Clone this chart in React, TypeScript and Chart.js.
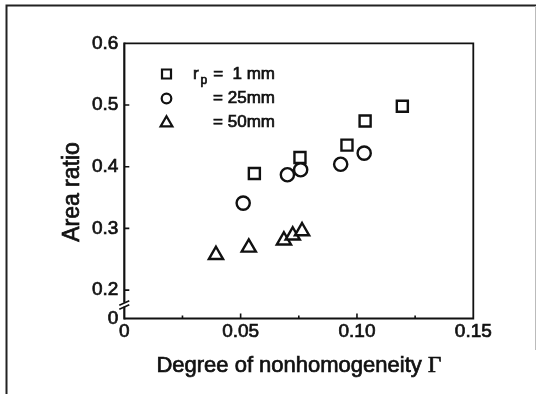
import React, { useEffect, useRef } from 'react';
import { Chart, registerables } from 'chart.js';

Chart.register(...registerables);

// ---- data ----
const squareX = [0.0559, 0.0755, 0.0957, 0.1035, 0.1195];
const squareY = [0.389, 0.415, 0.435, 0.474, 0.498];
const circleX = [0.0511, 0.0701, 0.0758, 0.093, 0.1031];
const circleY = [0.341, 0.387, 0.395, 0.404, 0.422];
const triangleX = [0.0394, 0.0535, 0.0686, 0.0724, 0.0764];
const triangleY = [0.257, 0.269, 0.2805, 0.2886, 0.2955];

const xTicks = [0, 0.05, 0.1, 0.15];
const xTickLabels = ['0', '0.05', '0.10', '0.15'];
const xMinorTicks = [0.025, 0.075, 0.125];
const yTicks = [0.2, 0.3, 0.4, 0.5, 0.6];
const yTickLabels = ['0.2', '0.3', '0.4', '0.5', '0.6'];
const yBrokenMin = 0.154; // broken axis: bottom of the axis is labelled "0"
const yBrokenLabel = '0';
const yBreakValue = 0.178;

const legendTexts = ['=  1 mm', '= 25mm', '= 50mm'];
const legendSymbol = 'r';
const legendSubscript = 'p';
const xTitleText = 'Degree of nonhomogeneity ';
const xTitleSymbol = 'Γ';
const yTitleText = 'Area ratio';

const SANS = '"Liberation Sans", Arial, Helvetica, sans-serif';
const SERIF = '"Liberation Serif", "Times New Roman", serif';
const INK = '#111';
const TEXT_STROKE = 0.7;

const toPoints = (xs: number[], ys: number[]) => xs.map((x, i) => ({ x, y: ys[i] }));

const boldText = (ctx: CanvasRenderingContext2D, t: string, x: number, y: number) => {
  ctx.lineWidth = TEXT_STROKE;
  ctx.strokeText(t, x, y);
  ctx.fillText(t, x, y);
};

const overlayPlugin = {
  id: 'overlay',
  beforeDatasetsDraw(chart: any) {
    const { ctx, chartArea: a, scales } = chart;
    const xs = scales.x;
    const ys = scales.y;
    ctx.save();
    ctx.strokeStyle = INK;
    ctx.lineCap = 'butt';
    // plot box
    ctx.lineWidth = 1.8;
    ctx.beginPath();
    ctx.moveTo(a.left, a.top);
    ctx.lineTo(a.right, a.top);
    ctx.lineTo(a.right, a.bottom);
    ctx.lineTo(a.left, a.bottom);
    ctx.stroke();
    ctx.lineWidth = 2.2;
    ctx.beginPath();
    ctx.moveTo(a.left, a.top - 0.9);
    ctx.lineTo(a.left, a.bottom + 0.9);
    ctx.stroke();
    // inward ticks on x
    ctx.lineWidth = 1.6;
    ctx.beginPath();
    xTicks.forEach((v) => {
      if (v <= xs.min || v >= xs.max) return;
      const px = xs.getPixelForValue(v);
      ctx.moveTo(px, a.bottom);
      ctx.lineTo(px, a.bottom - 5);
    });
    xMinorTicks.forEach((v) => {
      const px = xs.getPixelForValue(v);
      ctx.moveTo(px, a.bottom);
      ctx.lineTo(px, a.bottom - 3);
    });
    // inward ticks on y
    yTicks.forEach((v) => {
      if (v >= ys.max) return;
      const py = ys.getPixelForValue(v);
      ctx.moveTo(a.left, py);
      ctx.lineTo(a.left + 5, py);
    });
    ctx.stroke();
    // axis break
    const by = ys.getPixelForValue(yBreakValue);
    ctx.fillStyle = '#fff';
    ctx.fillRect(a.left - 2, by - 1, 4, 4);
    ctx.lineWidth = 1.6;
    ctx.beginPath();
    ctx.moveTo(a.left - 5, by + 1.5);
    ctx.lineTo(a.left + 5, by - 3);
    ctx.moveTo(a.left - 5, by + 5.5);
    ctx.lineTo(a.left + 5, by + 1);
    ctx.stroke();
    ctx.restore();
  },
  afterDraw(chart: any) {
    const { ctx, chartArea: a } = chart;
    ctx.save();
    // outer frame
    ctx.strokeStyle = '#222';
    ctx.lineWidth = 2;
    ctx.beginPath();
    ctx.moveTo(6.5, 394);
    ctx.lineTo(6.5, 5.5);
    ctx.lineTo(536, 5.5);
    ctx.stroke();
    ctx.strokeStyle = '#bbb';
    ctx.lineWidth = 1;
    ctx.beginPath();
    ctx.moveTo(535.5, 6);
    ctx.lineTo(535.5, 350);
    ctx.stroke();

    ctx.fillStyle = INK;
    ctx.strokeStyle = INK;
    // x title
    ctx.textBaseline = 'alphabetic';
    ctx.textAlign = 'left';
    ctx.font = `22px ${SANS}`;
    const w1 = ctx.measureText(xTitleText).width;
    ctx.font = `23px ${SERIF}`;
    const w2 = ctx.measureText(xTitleSymbol).width;
    const cx = (a.left + a.right) / 2;
    const sx = cx - (w1 + w2) / 2;
    ctx.font = `22px ${SANS}`;
    boldText(ctx, xTitleText, sx, 371.5);
    ctx.font = `23px ${SERIF}`;
    boldText(ctx, xTitleSymbol, sx + w1, 371.5);

    // y title
    ctx.save();
    ctx.translate(78.5, 192);
    ctx.rotate(-Math.PI / 2);
    ctx.textAlign = 'center';
    ctx.font = `23px ${SANS}`;
    boldText(ctx, yTitleText, 0, 0);
    ctx.restore();

    // legend
    const rows = [74, 98.5, 122];
    const symX = 166.5;
    ctx.lineWidth = 2.2;
    // square
    ctx.beginPath();
    ctx.rect(symX - 4.5, rows[0] - 4.5, 9, 9);
    ctx.stroke();
    // circle
    ctx.beginPath();
    ctx.arc(symX, rows[1], 4.8, 0, Math.PI * 2);
    ctx.stroke();
    // triangle
    const tr = 6.8;
    const ty = rows[2] + 1;
    ctx.beginPath();
    for (let k = 0; k < 3; k++) {
      const ang = (k * 2 * Math.PI) / 3;
      const px = symX + Math.sin(ang) * tr;
      const py = ty - Math.cos(ang) * tr;
      if (k === 0) ctx.moveTo(px, py);
      else ctx.lineTo(px, py);
    }
    ctx.closePath();
    ctx.stroke();

    ctx.textBaseline = 'middle';
    ctx.font = `17px ${SANS}`;
    ctx.textAlign = 'left';
    boldText(ctx, legendSymbol, 193, rows[0]);
    ctx.font = `12px ${SANS}`;
    boldText(ctx, legendSubscript, 200.5, rows[0] + 7);
    ctx.font = `17px ${SANS}`;
    ctx.textAlign = 'right';
    legendTexts.forEach((t, i) => boldText(ctx, t, 275, rows[i]));
    ctx.restore();
  },
};

export default function App() {
  const ref = useRef<HTMLCanvasElement | null>(null);
  useEffect(() => {
    if (!ref.current) return;
    const common = {
      borderColor: INK,
      backgroundColor: '#fff',
      pointBorderWidth: 2.4,
      pointHoverRadius: 0,
      showLine: false,
    };
    const tickFont = { family: SANS, size: 19 };
    const chart = new Chart(ref.current, {
      type: 'scatter',
      data: {
        datasets: [
          { ...common, label: 'rp = 1 mm', data: toPoints(squareX, squareY), pointStyle: 'rect', pointRadius: 7.8, order: 2 },
          { ...common, label: '= 25mm', data: toPoints(circleX, circleY), pointStyle: 'circle', pointRadius: 6.6, order: 1 },
          { ...common, label: '= 50mm', data: toPoints(triangleX, triangleY), pointStyle: 'triangle', pointRadius: 8.2, order: 0 },
        ],
      },
      options: {
        animation: false,
        responsive: false,
        maintainAspectRatio: false,
        devicePixelRatio: 1,
        events: [],
        layout: { padding: { left: 0, top: 43.3, right: 70.7, bottom: 0 } },
        plugins: { legend: { display: false }, tooltip: { enabled: false }, title: { display: false } },
        scales: {
          x: {
            type: 'linear',
            min: xTicks[0],
            max: xTicks[xTicks.length - 1],
            grid: { display: false, drawTicks: false },
            border: { display: false },
            afterBuildTicks: (s: any) => {
              s.ticks = xTicks.map((v) => ({ value: v }));
            },
            afterFit: (s: any) => {
              s.height = 81.5;
            },
            ticks: {
              autoSkip: false,
              maxRotation: 0,
              padding: 2,
              color: INK,
              textStrokeColor: INK,
              textStrokeWidth: TEXT_STROKE,
              font: tickFont,
              callback: (v: any) => {
                const i = xTicks.findIndex((t) => Math.abs(t - Number(v)) < 1e-9);
                return i >= 0 ? xTickLabels[i] : '';
              },
            },
          },
          y: {
            type: 'linear',
            min: yBrokenMin,
            max: yTicks[yTicks.length - 1],
            grid: { display: false, drawTicks: false },
            border: { display: false },
            afterBuildTicks: (s: any) => {
              s.ticks = [{ value: yBrokenMin }, ...yTicks.map((v) => ({ value: v }))];
            },
            afterFit: (s: any) => {
              s.width = 124.3;
            },
            ticks: {
              autoSkip: false,
              padding: 6,
              color: INK,
              textStrokeColor: INK,
              textStrokeWidth: TEXT_STROKE,
              font: tickFont,
              callback: (v: any) => {
                if (Math.abs(Number(v) - yBrokenMin) < 1e-9) return yBrokenLabel;
                const i = yTicks.findIndex((t) => Math.abs(t - Number(v)) < 1e-9);
                return i >= 0 ? yTickLabels[i] : '';
              },
            },
          },
        },
      },
      plugins: [overlayPlugin],
    } as any);
    return () => chart.destroy();
  }, []);
  return (
    <div style={{ position: 'fixed', left: 0, top: 0, width: 544, height: 400, background: '#fff' }}>
      <canvas ref={ref} width={544} height={400} style={{ width: 544, height: 400, display: 'block' }} />
    </div>
  );
}
